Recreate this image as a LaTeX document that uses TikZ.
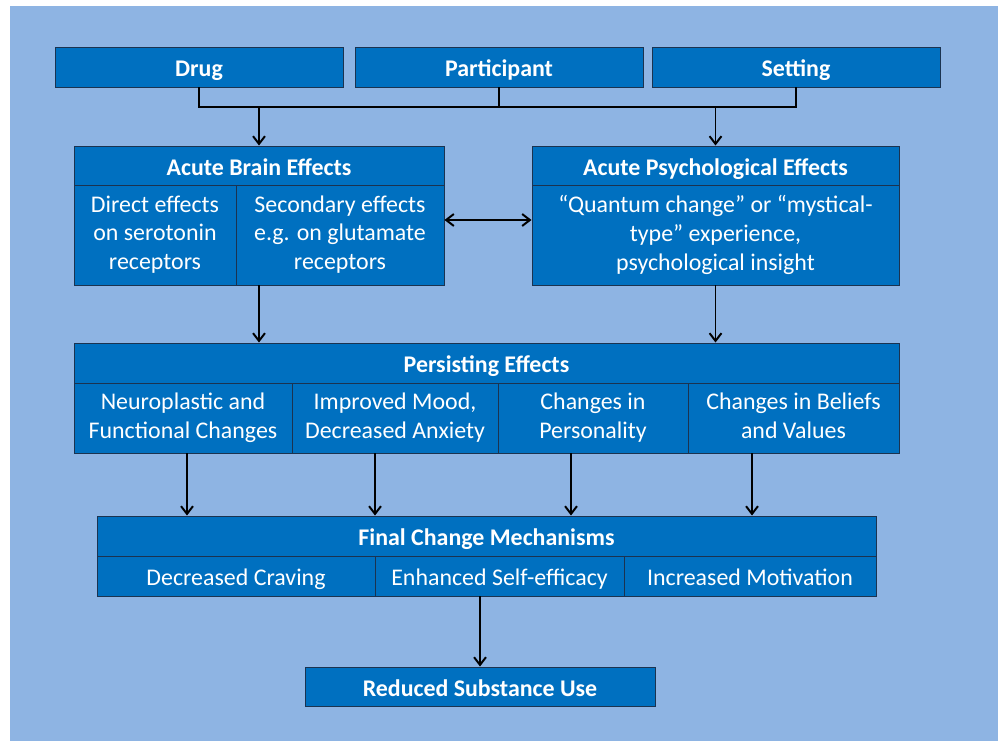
\documentclass[tikz,border=0pt]{standalone}
\usepackage{fontspec}
\setmainfont{Carlito}
\usetikzlibrary{arrows.meta}

\definecolor{boxblue}{HTML}{0070C0}
\definecolor{backblue}{HTML}{8EB4E3}
\definecolor{edgeblue}{HTML}{1B3350}

\def \px {0.025cm}
\def \rowh {40}
\newcommand{\cellstrut}{\rule[-3.4pt]{0pt}{20.5pt}}
\tikzstyle{cell}=[draw=edgeblue, line width=0.7pt, fill=boxblue, text=white, inner sep=0pt, align=center, font=\fontsize{17}{20.5}\selectfont, execute at begin node=\cellstrut, execute at end node=\cellstrut]
\tikzstyle{head}=[cell, font=\fontsize{17}{20.5}\selectfont\bfseries]
\tikzstyle{link}=[line width=1.4pt, >={Straight Barb[length=5.5pt, width=8.5pt]}]

\begin{document}
\begin{tikzpicture}[x=\px, y=-\px, link]

\useasboundingbox[fill=white] (0,0) rectangle (998,741);
\fill[backblue] (10,6) rectangle (998,741);

% inputs
\foreach \n/\t/\x in {drug/Drug/199, part/Participant/499, sett/Setting/796}
    \node[head, minimum width=288*\px, minimum height=\rowh*\px] (\n) at (\x, 67) {\t};

% acute effects
\node[head, minimum width=370*\px, minimum height=39*\px] (brain) at (259, 165.5) {Acute Brain Effects};
\node[cell, minimum width=162*\px, minimum height=100*\px] (brainA) at (155, 235) {Direct effects\\on serotonin\\receptors};
\node[cell, minimum width=208*\px, minimum height=100*\px] (brainB) at (340, 235) {Secondary effects\\e.g. on glutamate\\receptors};

\node[head, minimum width=367*\px, minimum height=39*\px] (psych) at (715.5, 165.5) {Acute Psychological Effects};
\node[cell, minimum width=367*\px, minimum height=100*\px] (psychA) at (715.5, 235) {“Quantum change” or “mystical-\\type” experience,\\psychological insight};

% persisting effects
\node[head, minimum width=825*\px, minimum height=\rowh*\px] (pers) at (486.5, 363) {Persisting Effects};
\foreach \n/\x/\w/\t in {A/183/218/{Neuroplastic and\\Functional Changes}, B/395/206/{Improved Mood,\\Decreased Anxiety}, C/593/190/{Changes in\\Personality}, D/793.5/211/{Changes in Beliefs\\and Values}}
    \node[cell, minimum width=\w*\px, minimum height=70*\px] (pers\n) at (\x, 418) {\t};

% final mechanisms
\node[head, minimum width=779*\px, minimum height=\rowh*\px] (final) at (486.5, 536) {Final Change Mechanisms};
\foreach \n/\x/\w/\t in {A/236/278/{Decreased Craving}, B/499.5/249/{Enhanced Self-efficacy}, C/750/252/{Increased Motivation}}
    \node[cell, minimum width=\w*\px, minimum height=\rowh*\px] (final\n) at (\x, 576) {\t};

\node[head, minimum width=350*\px, minimum height=39*\px] (reduced) at (480, 686.5) {Reduced Substance Use};

% connectors
\coordinate (bus) at (0, 107);
\draw (drug.south) -- (drug |- bus) -- (sett |- bus) -- (sett.south);
\draw (part.south) -- (part |- bus);
\draw[->] (brain |- bus) -- (brain);
\draw[->] (psych |- bus) -- (psych);

\draw[<->] ([yshift=15*\px]brainB.east) -- ([yshift=15*\px]psychA.west);

\draw[->] (brain |- brainA.south) -- (brain |- pers.north);
\draw[->] (psychA.south) -- (psychA |- pers.north);

\foreach \n/\d in {A/4, B/-20, C/-22, D/-41.5}
    \draw[->] ([xshift=\d*\px]pers\n.south) -- ([xshift=\d*\px]pers\n.south |- final.north);

\draw[->] (reduced |- finalB.south) -- (reduced);

\end{tikzpicture}
\end{document}
